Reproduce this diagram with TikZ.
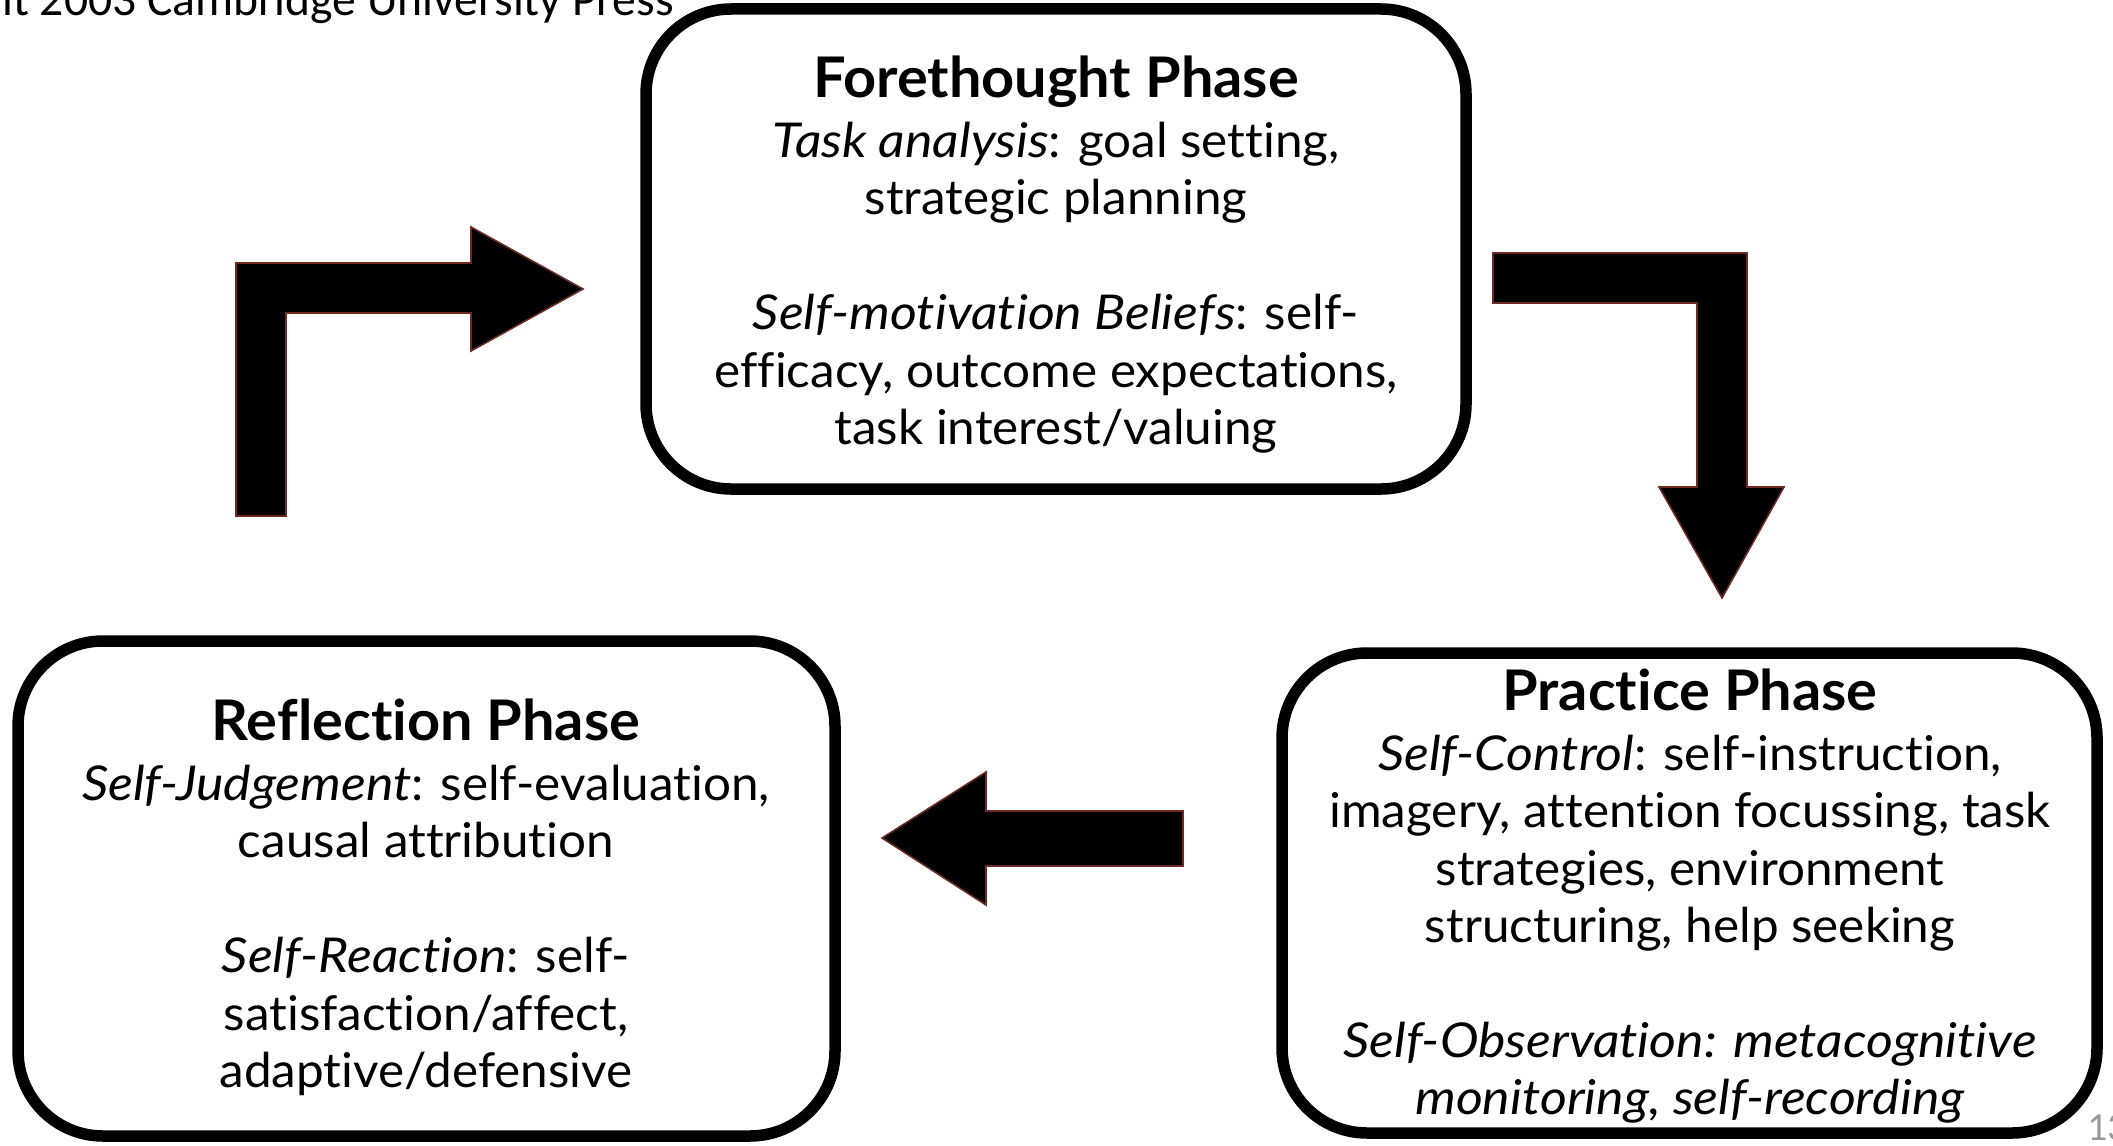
\documentclass[tikz,border=0pt]{standalone}
\usepackage{fontspec}
\setmainfont{Lato}[FakeStretch=1.03, Ligatures=NoCommon,
  ItalicFeatures={FakeStretch=1.08}]
\newfontfamily\notefont{Carlito}
\definecolor{arrowedge}{HTML}{6B2B22}
\definecolor{pagegray}{HTML}{9A9A9A}
\newcommand\phasetitle[1]{{\bfseries\fontsize{28}{28.7}\selectfont #1}}
\begin{document}
\begin{tikzpicture}[x=0.5pt,y=-0.5pt,
  phasebox/.style={draw=black, line width=5.75pt, rounded corners=42.5pt,
    fill=white, inner sep=0pt, outer sep=0pt},
  phasetext/.style={anchor=north, align=center, inner sep=0pt,
    font=\fontsize{24}{28.7}\selectfont},
  blockarrow/.style={fill=black, draw=arrowedge, line width=0.8pt, line join=miter}]
\useasboundingbox (0,0) rectangle (2113,1145);

% source line and slide number
\node[anchor=base east, inner sep=0pt, font=\notefont\fontsize{23.8}{28}\selectfont]
  (source) at (674,16) {it 2003 Cambridge University Press};
\node[anchor=base west, inner sep=0pt, text=pagegray, font=\notefont\fontsize{20}{24}\selectfont]
  (pagenum) at (2087,1140) {13};

% the three phases
\node[phasebox, minimum width=410pt, minimum height=240pt] (fore) at (1056,249) {};
\node[phasebox, minimum width=408.5pt, minimum height=247.5pt] (refl) at (426.5,888.5) {};
\node[phasebox, minimum width=407.5pt, minimum height=240pt] (prac) at (1689.5,893) {};

\node[phasetext] (foretext) at (1056,55) {%
  \phasetitle{Forethought Phase}\\[1.5pt]
  \textit{Task analysis}: goal setting,\\
  strategic planning\\[28.7pt]
  \textit{Self-motivation Beliefs}: self-\\
  efficacy, outcome expectations,\\
  task interest/valuing};

\node[phasetext] (refltext) at (426,698) {%
  \phasetitle{Reflection Phase}\\[1.5pt]
  \textit{Self-Judgement}: self-evaluation,\\
  causal attribution\\[28.7pt]
  \textit{Self-Reaction}: self-\\
  satisfaction/affect,\\
  adaptive/defensive};

\node[phasetext] (practext) at (1690,668) {%
  \phasetitle{Practice Phase}\\[1.5pt]
  \textit{Self-Control}: self-instruction,\\
  imagery, attention focussing, task\\
  strategies, environment\\
  structuring, help seeking\\[28.7pt]
  \textit{Self-Observation: metacognitive}\\
  \textit{monitoring, self-recording}};

% block arrows of the cycle
\draw[blockarrow] (236,516) -- (236,263) -- (471,263) -- (471,227) -- (583,289)
  -- (471,351) -- (471,313) -- (286,313) -- (286,516) -- cycle;
\draw[blockarrow] (1493,253) -- (1747,253) -- (1747,487) -- (1784,487) -- (1722,598)
  -- (1659,487) -- (1697,487) -- (1697,303) -- (1493,303) -- cycle;
\draw[blockarrow] (1183,811) -- (986,811) -- (986,772) -- (882,838) -- (986,905)
  -- (986,866) -- (1183,866) -- cycle;
\end{tikzpicture}
\end{document}
